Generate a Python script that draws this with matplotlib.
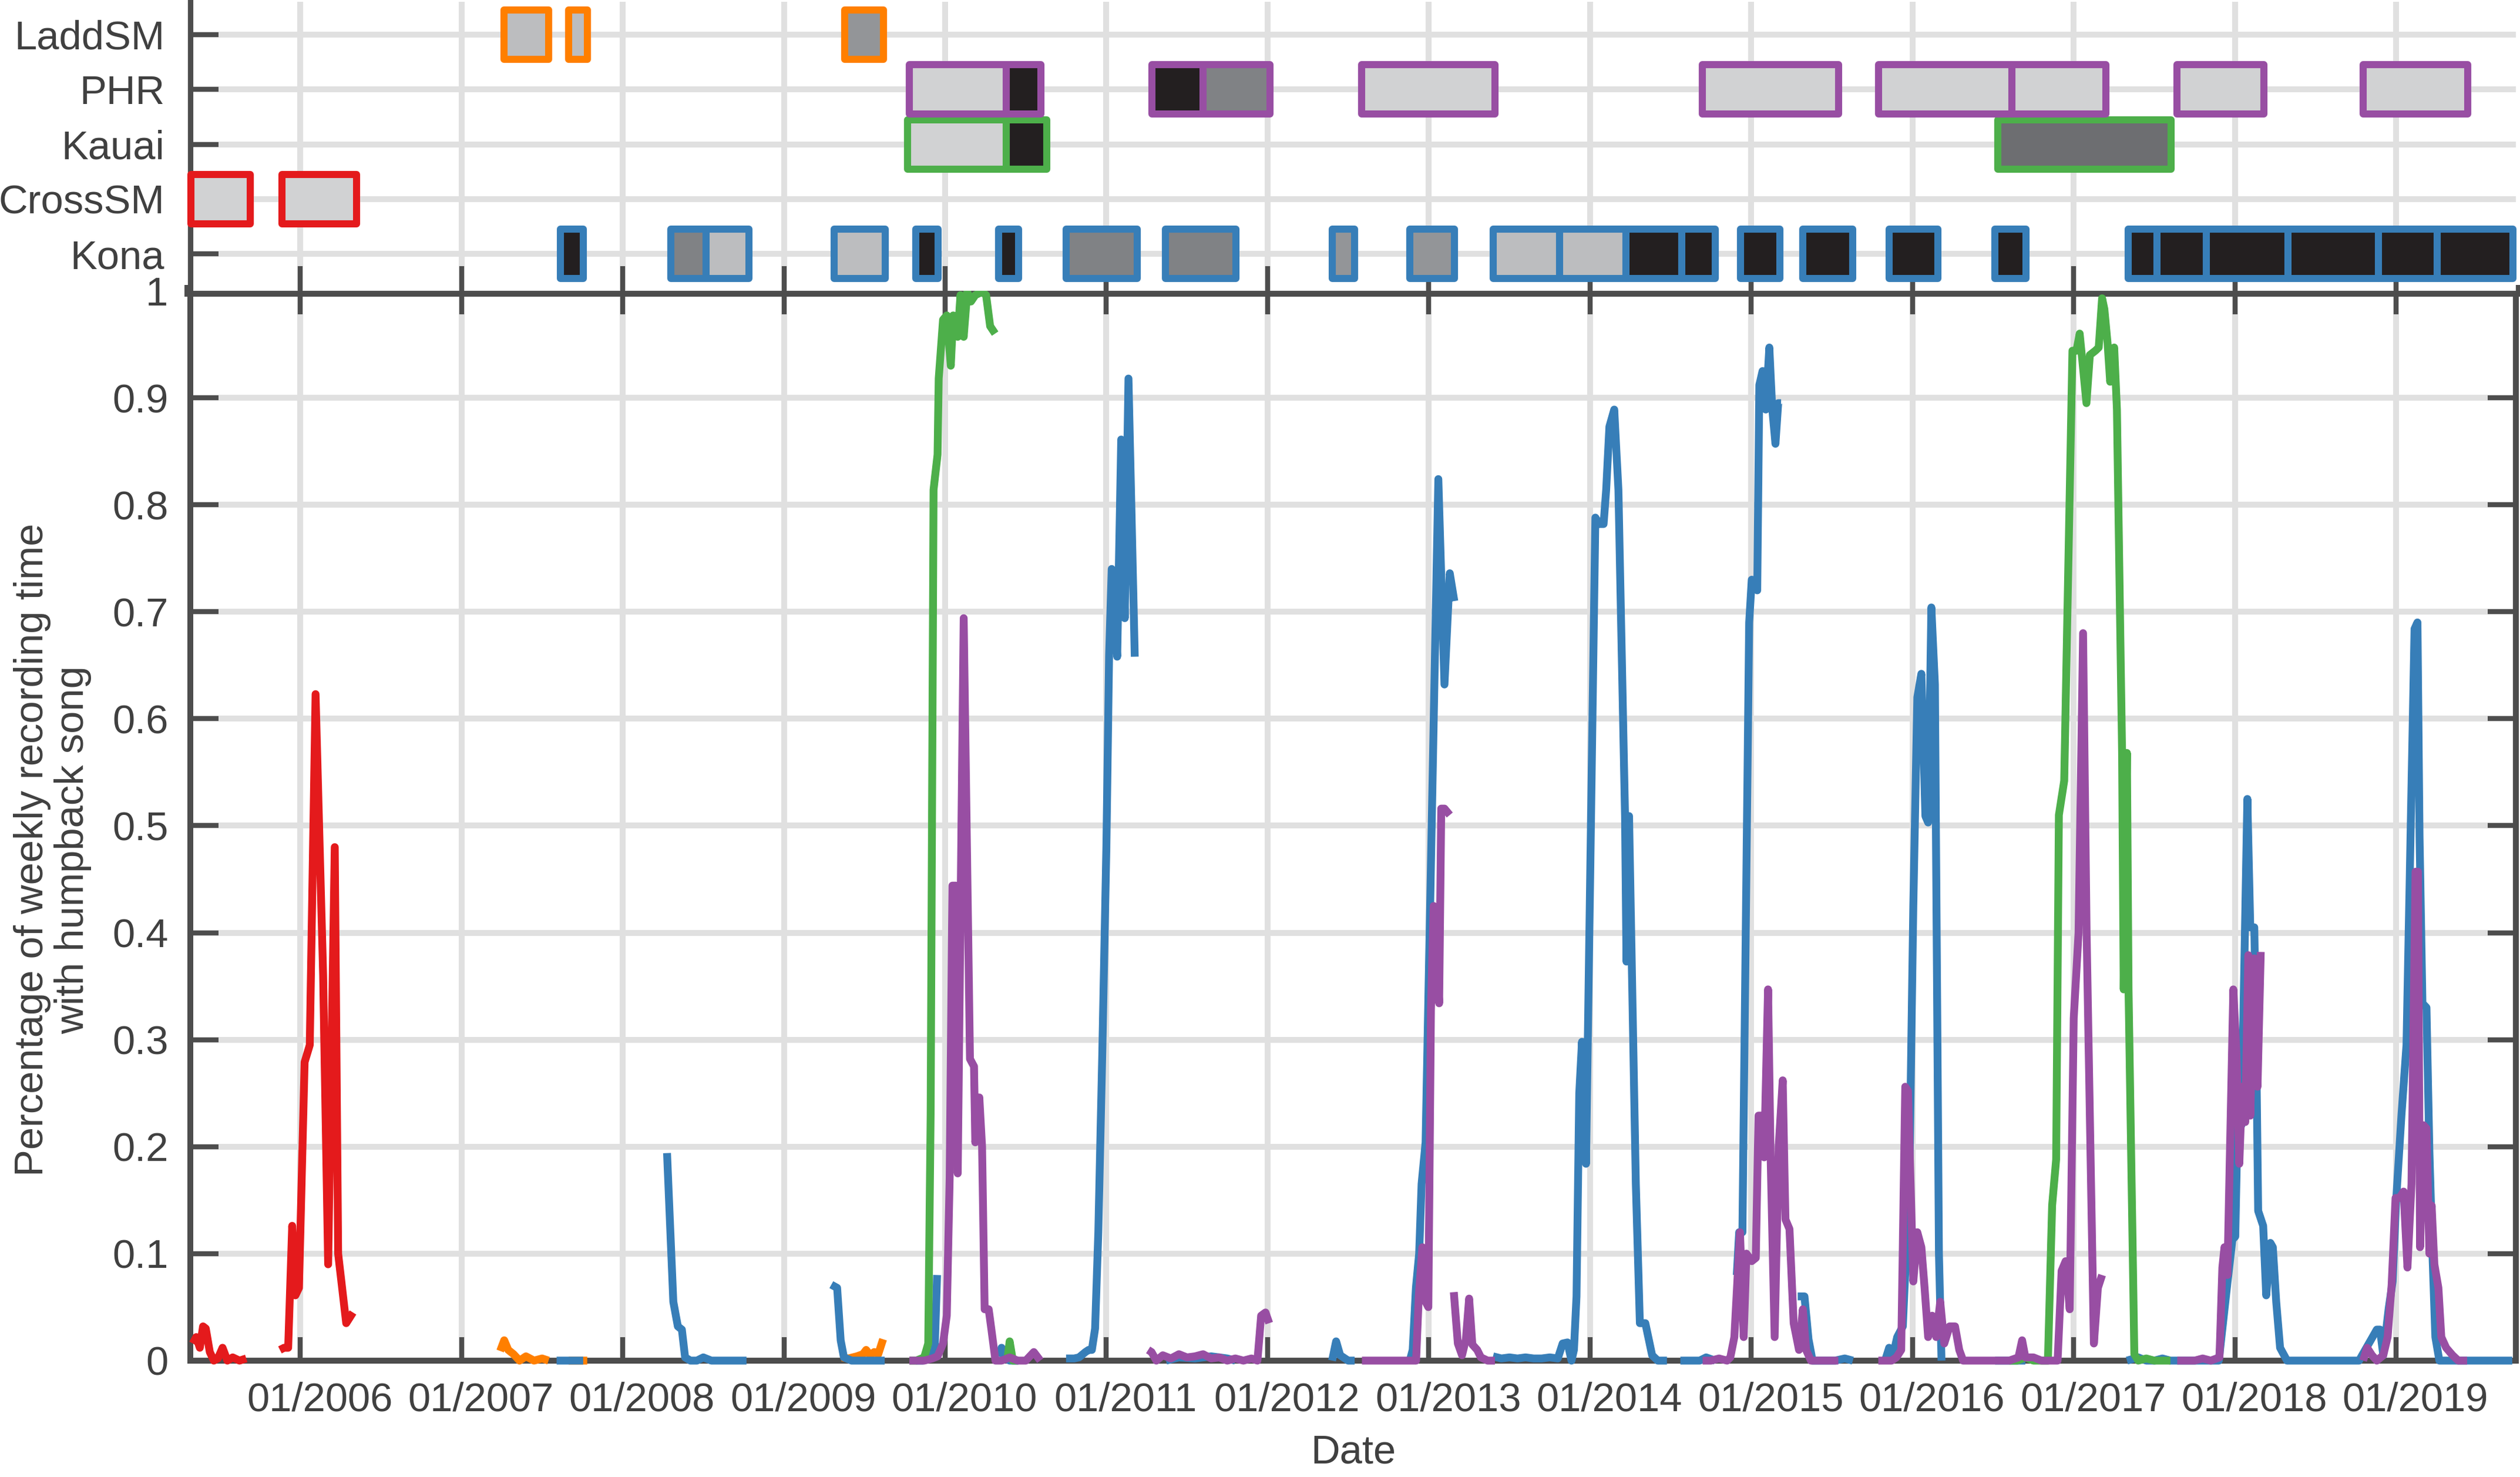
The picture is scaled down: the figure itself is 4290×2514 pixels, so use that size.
"""
Weekly humpback song detections per site with recording-effort bars above.
"""
import numpy as np
import matplotlib
matplotlib.use("Agg")
import matplotlib.pyplot as plt
import matplotlib.transforms as mtransforms

nan = np.nan

# ---- sites (top panel rows, bottom to top) ----
sites = ["Kona", "CrossSM", "Kauai", "PHR", "LaddSM"]
years = list(range(2006, 2020))
x_range = (2005.318, 2019.744)

# recording deployments: (start, end) in decimal years, fill shade index
kona_dep = [(2007.613, 2007.755), (2008.297, 2008.517), (2008.517, 2008.782),
            (2009.311, 2009.627), (2009.816, 2009.957), (2010.331, 2010.456),
            (2010.749, 2011.191), (2011.366, 2011.804), (2012.400, 2012.541),
            (2012.882, 2013.158), (2013.398, 2013.811), (2013.811, 2014.224),
            (2014.224, 2014.568), (2014.568, 2014.777), (2014.934, 2015.178),
            (2015.319, 2015.629), (2015.856, 2016.156), (2016.512, 2016.705),
            (2017.338, 2017.518), (2017.518, 2017.823), (2017.823, 2018.328),
            (2018.328, 2018.891), (2018.891, 2019.255), (2019.255, 2019.725)]
kona_shade = [5, 3, 1, 1, 5, 5, 3, 3, 2, 2, 1, 1, 5, 5, 5, 5, 5, 5, 5, 5, 5, 5, 5, 5]
cross_dep = [(2005.322, 2005.689), (2005.887, 2006.349)]
cross_shade = [0, 0]
kauai_dep = [(2009.766, 2010.379), (2010.379, 2010.631), (2016.530, 2017.605)]
kauai_shade = [0, 5, 4]
phr_dep = [(2009.778, 2010.379), (2010.379, 2010.593), (2011.282, 2011.598),
           (2011.598, 2012.013), (2012.585, 2013.411), (2014.698, 2015.541),
           (2015.788, 2016.615), (2016.615, 2017.200), (2017.642, 2018.178),
           (2018.795, 2019.442)]
phr_shade = [0, 5, 5, 3, 0, 0, 0, 0, 0, 0]
ladd_dep = [(2007.262, 2007.540), (2007.664, 2007.781), (2009.378, 2009.619)]
ladd_shade = [1, 1, 2]

# ---- weekly proportion of time with song (nan = no recording) ----
cross_t = [2005.333, 2005.355, 2005.377, 2005.397, 2005.414, 2005.439, 2005.464,
           2005.489, 2005.518, 2005.548, 2005.581, 2005.623, 2005.665, nan,
           2005.874, 2005.900, 2005.925, 2005.950, 2005.970, 2005.992, 2006.027,
           2006.059, 2006.095, 2006.142, 2006.173, 2006.214, 2006.235, 2006.285,
           2006.327]
cross_v = [0.016, 0.022, 0.012, 0.032, 0.030, 0.008, 0.000,
           0.002, 0.012, 0.000, 0.003, 0.000, 0.002, nan,
           0.010, 0.012, 0.012, 0.126, 0.061, 0.068, 0.279,
           0.295, 0.623, 0.360, 0.090, 0.480, 0.100, 0.035,
           0.045]

ladd_t = [2007.240, 2007.265, 2007.290, 2007.323, 2007.360, 2007.400, 2007.450,
          2007.500, 2007.540, nan,
          2007.665, 2007.700, 2007.740, 2007.780, nan,
          2009.360, 2009.400, 2009.452, 2009.490, 2009.510, 2009.535, 2009.560,
          2009.585, 2009.615]
ladd_v = [0.009, 0.019, 0.010, 0.006, 0.000, 0.004, 0.000,
          0.002, 0.000, nan,
          0.000, 0.000, 0.000, 0.000, nan,
          0.003, 0.002, 0.004, 0.006, 0.010, 0.005, 0.008,
          0.006, 0.020]

kona_t = [2007.590, 2007.620, 2007.665, 2007.710, 2007.755, nan,
          2008.275, 2008.314, 2008.342, 2008.367, 2008.387, 2008.420, 2008.460,
          2008.500, 2008.550, 2008.600, 2008.650, 2008.700, 2008.768, nan,
          2009.294, 2009.330, 2009.352, 2009.372, 2009.420, 2009.500, 2009.580,
          2009.625, nan,
          2009.820, 2009.860, 2009.900, 2009.935, 2009.950, nan,
          2010.331, 2010.350, 2010.375, 2010.400, 2010.430, 2010.455, nan,
          2010.750, 2010.800, 2010.830, 2010.870, 2010.890, 2010.910, 2010.930,
          2010.950, 2010.975, 2011.000, 2011.017, 2011.033, 2011.067, 2011.092,
          2011.114, 2011.137, 2011.176, nan,
          2011.370, 2011.450, 2011.550, 2011.650, 2011.750, 2011.800, nan,
          2012.400, 2012.425, 2012.450, 2012.500, 2012.540, nan,
          2012.882, 2012.900, 2012.920, 2012.940, 2012.955, 2012.980, 2013.059,
          2013.097, 2013.130, 2013.158, nan,
          2013.398, 2013.450, 2013.500, 2013.550, 2013.600, 2013.650, 2013.700,
          2013.750, 2013.800, 2013.830, 2013.860, 2013.885, 2013.900, 2013.916,
          2013.933, 2013.950, 2013.975, 2014.033, 2014.058, 2014.084, 2014.100,
          2014.120, 2014.150, 2014.176, 2014.217, 2014.226, 2014.242, 2014.284,
          2014.309, 2014.343, 2014.385, 2014.420, 2014.477, nan,
          2014.560, 2014.620, 2014.680, 2014.720, 2014.777, nan,
          2014.910, 2014.925, 2014.945, 2014.987, 2015.003, 2015.037, 2015.050,
          2015.070, 2015.090, 2015.112, 2015.130, 2015.150, 2015.167, 2015.185,
          nan,
          2015.288, 2015.330, 2015.355, 2015.380, 2015.450, 2015.520, 2015.580,
          2015.630, nan,
          2015.830, 2015.855, 2015.880, 2015.905, 2015.940, 2015.980, 2016.005,
          2016.030, 2016.055, 2016.080, 2016.097, 2016.117, 2016.139, 2016.164,
          2016.180, nan,
          2016.512, 2016.560, 2016.600, 2016.650, 2016.700, nan,
          2017.330, 2017.400, 2017.450, 2017.500, 2017.550, 2017.600, 2017.650,
          2017.700, 2017.750, 2017.800, 2017.850, 2017.900, 2017.947, 2017.984,
          2018.002, 2018.020, 2018.040, 2018.077, 2018.095, 2018.120, 2018.130,
          2018.144, 2018.175, 2018.194, 2018.220, 2018.235, 2018.256, 2018.280,
          2018.323, 2018.400, 2018.500, 2018.600, 2018.700, 2018.770, 2018.880,
          2018.900, 2018.920, 2018.953, 2018.978, 2019.000, 2019.033, 2019.064,
          2019.089, 2019.114, 2019.132, 2019.145, 2019.163, 2019.188, 2019.206,
          2019.225, 2019.243, 2019.268, 2019.350, 2019.450, 2019.550, 2019.650,
          2019.720]
kona_v = [0.000, 0.000, 0.000, 0.000, 0.000, nan,
          0.194, 0.055, 0.032, 0.029, 0.003, 0.000, 0.000,
          0.003, 0.000, 0.000, 0.000, 0.000, 0.000, nan,
          0.071, 0.068, 0.019, 0.003, 0.000, 0.000, 0.000,
          0.000, nan,
          0.000, 0.000, 0.005, 0.010, 0.080, nan,
          0.004, 0.012, 0.002, 0.000, 0.000, 0.000, nan,
          0.002, 0.002, 0.003, 0.008, 0.010, 0.010, 0.030,
          0.120, 0.290, 0.480, 0.660, 0.740, 0.658, 0.861,
          0.694, 0.918, 0.658, nan,
          0.000, 0.003, 0.002, 0.004, 0.002, 0.000, nan,
          0.000, 0.018, 0.005, 0.000, 0.000, nan,
          0.000, 0.010, 0.068, 0.100, 0.165, 0.204, 0.824,
          0.632, 0.736, 0.710, nan,
          0.004, 0.002, 0.003, 0.002, 0.003, 0.002, 0.002,
          0.003, 0.002, 0.016, 0.017, 0.000, 0.010, 0.060,
          0.250, 0.298, 0.184, 0.788, 0.782, 0.782, 0.814,
          0.873, 0.889, 0.814, 0.509, 0.373, 0.509, 0.165,
          0.035, 0.035, 0.005, 0.000, 0.000, nan,
          0.000, 0.000, 0.000, 0.003, 0.000, nan,
          0.080, 0.120, 0.120, 0.690, 0.730, 0.720, 0.912,
          0.925, 0.889, 0.947, 0.890, 0.857, 0.895, 0.895,
          nan,
          0.060, 0.060, 0.020, 0.000, 0.000, 0.000, 0.002,
          0.000, nan,
          0.000, 0.012, 0.005, 0.022, 0.032, 0.165, 0.425,
          0.620, 0.642, 0.509, 0.503, 0.704, 0.632, 0.100,
          0.000, nan,
          0.000, 0.000, 0.000, 0.000, 0.000, nan,
          0.000, 0.003, 0.000, 0.000, 0.002, 0.000, 0.000,
          0.000, 0.000, 0.000, 0.000, 0.000, 0.064, 0.113,
          0.116, 0.250, 0.220, 0.525, 0.405, 0.405, 0.320,
          0.140, 0.126, 0.061, 0.110, 0.106, 0.055, 0.012,
          0.000, 0.000, 0.000, 0.000, 0.000, 0.000, 0.029,
          0.029, 0.005, 0.048, 0.074, 0.150, 0.230, 0.295,
          0.490, 0.684, 0.690, 0.490, 0.334, 0.330, 0.196,
          0.100, 0.022, 0.000, 0.000, 0.000, 0.000, 0.000,
          0.000]

kauai_t = [2009.778, 2009.820, 2009.870, 2009.895, 2009.910, 2009.928, 2009.953,
           2009.960, 2009.987, 2010.010, 2010.035, 2010.050, 2010.078, 2010.095,
           2010.115, 2010.137, 2010.160, 2010.187, 2010.229, 2010.254, 2010.279,
           2010.310, nan,
           2010.385, 2010.400, 2010.420, 2010.450, nan,
           2016.600, 2016.650, 2016.700, 2016.750, 2016.800, 2016.840, 2016.866,
           2016.891, 2016.908, 2016.941, 2016.992, 2017.017, 2017.037, 2017.079,
           2017.100, 2017.134, 2017.155, 2017.176, 2017.190, 2017.210, 2017.226,
           2017.251, 2017.268, 2017.300, 2017.310, 2017.330, 2017.340, 2017.376,
           2017.400, 2017.450, 2017.500, 2017.550, 2017.600]
kauai_v = [0.000, 0.000, 0.003, 0.016, 0.230, 0.814, 0.847,
           0.918, 0.973, 0.977, 0.930, 0.977, 0.957, 0.996,
           0.957, 0.999, 0.990, 0.996, 0.999, 0.996, 0.967,
           0.960, nan,
           0.000, 0.018, 0.000, 0.000, nan,
           0.000, 0.000, 0.003, 0.000, 0.000, 0.000, 0.145,
           0.188, 0.510, 0.542, 0.944, 0.944, 0.960, 0.895,
           0.940, 0.944, 0.947, 0.993, 0.983, 0.951, 0.915,
           0.947, 0.889, 0.568, 0.347, 0.568, 0.347, 0.006,
           0.000, 0.002, 0.000, 0.000, 0.000]

phr_t = [2009.778, 2009.820, 2009.870, 2009.920, 2009.953, 2009.987, 2010.010,
         2010.028, 2010.045, 2010.067, 2010.078, 2010.115, 2010.154, 2010.179,
         2010.187, 2010.212, 2010.229, 2010.245, 2010.270, 2010.287, 2010.312,
         2010.350, 2010.400, 2010.450, 2010.500, 2010.550, 2010.590, nan,
         2011.259, 2011.280, 2011.310, 2011.350, 2011.400, 2011.450, 2011.500,
         2011.550, 2011.600, 2011.650, 2011.700, 2011.750, 2011.800, 2011.850,
         2011.900, 2011.937, 2011.960, 2011.987, 2012.010, nan,
         2012.585, 2012.650, 2012.700, 2012.750, 2012.800, 2012.850, 2012.921,
         2012.938, 2012.960, 2012.980, 2012.997, 2013.013, 2013.030, 2013.064,
         2013.077, 2013.097, 2013.130, nan,
         2013.155, 2013.180, 2013.206, 2013.230, 2013.250, 2013.270, 2013.300,
         2013.323, 2013.365, 2013.410, nan,
         2014.698, 2014.750, 2014.800, 2014.850, 2014.870, 2014.895, 2014.930,
         2014.953, 2014.970, 2015.003, 2015.028, 2015.045, 2015.060, 2015.080,
         2015.104, 2015.120, 2015.145, 2015.170, 2015.195, 2015.212, 2015.237,
         2015.263, 2015.296, 2015.320, 2015.340, 2015.370, 2015.420, 2015.470,
         2015.540, nan,
         2015.788, 2015.830, 2015.870, 2015.900, 2015.930, 2015.955, 2015.972,
         2016.005, 2016.030, 2016.055, 2016.075, 2016.097, 2016.122, 2016.147,
         2016.172, 2016.197, 2016.230, 2016.264, 2016.290, 2016.314, 2016.400,
         2016.500, 2016.600, 2016.657, 2016.680, 2016.700, 2016.750, 2016.800,
         2016.850, 2016.900, 2016.925, 2016.950, 2016.975, 2017.000, 2017.030,
         2017.058, 2017.080, 2017.125, 2017.150, 2017.176, nan,
         2017.642, 2017.700, 2017.750, 2017.800, 2017.850, 2017.904, 2017.922,
         2017.935, 2017.953, 2017.990, 2018.009, 2018.027, 2018.045, 2018.064,
         2018.083, 2018.095, 2018.120, 2018.140, 2018.160, nan,
         2018.795, 2018.820, 2018.850, 2018.880, 2018.920, 2018.947, 2018.972,
         2018.996, 2019.020, 2019.046, 2019.070, 2019.095, 2019.120, 2019.135,
         2019.148, 2019.170, 2019.188, 2019.206, 2019.220, 2019.237, 2019.262,
         2019.280, 2019.310, 2019.350, 2019.385, 2019.440]
phr_v = [0.000, 0.000, 0.000, 0.002, 0.004, 0.016, 0.042,
         0.171, 0.444, 0.444, 0.175, 0.694, 0.282, 0.275,
         0.204, 0.246, 0.200, 0.048, 0.048, 0.029, 0.000,
         0.000, 0.003, 0.000, 0.000, 0.008, 0.000, nan,
         0.010, 0.008, 0.000, 0.005, 0.002, 0.006, 0.003,
         0.004, 0.006, 0.002, 0.003, 0.000, 0.002, 0.000,
         0.002, 0.000, 0.042, 0.045, 0.035, nan,
         0.000, 0.000, 0.000, 0.000, 0.000, 0.000, 0.000,
         0.061, 0.106, 0.055, 0.050, 0.327, 0.425, 0.334,
         0.516, 0.516, 0.510, nan,
         0.064, 0.016, 0.005, 0.020, 0.058, 0.015, 0.010,
         0.003, 0.000, 0.000, nan,
         0.000, 0.000, 0.002, 0.000, 0.003, 0.022, 0.120,
         0.022, 0.100, 0.093, 0.096, 0.229, 0.229, 0.190,
         0.347, 0.190, 0.022, 0.200, 0.262, 0.132, 0.123,
         0.035, 0.010, 0.048, 0.010, 0.000, 0.000, 0.000,
         0.000, nan,
         0.000, 0.000, 0.000, 0.003, 0.010, 0.256, 0.252,
         0.074, 0.120, 0.106, 0.068, 0.022, 0.042, 0.022,
         0.055, 0.016, 0.032, 0.032, 0.010, 0.000, 0.000,
         0.000, 0.000, 0.003, 0.019, 0.003, 0.003, 0.000,
         0.000, 0.000, 0.084, 0.093, 0.048, 0.320, 0.400,
         0.680, 0.400, 0.016, 0.068, 0.080, nan,
         0.000, 0.000, 0.000, 0.002, 0.000, 0.003, 0.087,
         0.106, 0.080, 0.347, 0.288, 0.184, 0.256, 0.223,
         0.379, 0.229, 0.376, 0.256, 0.382, nan,
         0.000, 0.012, 0.005, 0.000, 0.005, 0.022, 0.071,
         0.152, 0.152, 0.158, 0.087, 0.165, 0.457, 0.457,
         0.106, 0.220, 0.217, 0.100, 0.145, 0.090, 0.068,
         0.022, 0.012, 0.005, 0.000, 0.000]

# ---- styles ----
site_colors = {"CrossSM": "#e41a1c", "LaddSM": "#ff7f00", "Kona": "#377eb8",
               "Kauai": "#4daf4a", "PHR": "#984ea3"}
shades = ["#d1d2d3", "#bcbdbf", "#939598", "#808285", "#6d6e71", "#231f20"]
dark = "#4d4d4d"
text_c = "#404040"
grid_c = "#e0e0e0"

plt.rcParams['font.family'] = ['Liberation Sans', 'DejaVu Sans']
plt.rcParams['font.size'] = 16.5
plt.rcParams['text.color'] = text_c
plt.rcParams['axes.labelcolor'] = text_c

fig = plt.figure(figsize=(14.303, 8.38), dpi=300)
left, right = 0.0755, 0.99825
main_bottom, main_top = 0.0788, 0.8031
ax = fig.add_axes([left, main_bottom, right - left, main_top - main_bottom])
axt = fig.add_axes([left, main_top, right - left, 0.999 - main_top], sharex=ax)

# ---- top panel: deployments ----
deployments = {"Kona": (kona_dep, kona_shade), "CrossSM": (cross_dep, cross_shade),
               "Kauai": (kauai_dep, kauai_shade), "PHR": (phr_dep, phr_shade),
               "LaddSM": (ladd_dep, ladd_shade)}
for row, name in enumerate(sites):
    dep, shade = deployments[name]
    bars = axt.broken_barh([(a, b - a) for a, b in dep], (row - 0.45, 0.9),
                           facecolors=[shades[s] for s in shade],
                           edgecolor=site_colors[name], linewidth=2.9, zorder=3)
    bars.set_clip_on(False)

axt.set_ylim(-0.673, 4.604)
axt.set_yticks(range(len(sites)))
axt.set_yticklabels(sites)
axt.set_xticks(years)
axt.tick_params(axis='x', which='both', bottom=True, top=False, labelbottom=False,
                direction='in', length=10, width=2, color=dark)
axt.tick_params(axis='y', direction='in', length=11.5, width=2, color=dark,
                labelcolor=text_c, labelsize=16.5, pad=10.5)
axt.grid(True, color=grid_c, linewidth=2.4)
axt.set_axisbelow(True)
for side in ["top", "right", "bottom"]:
    axt.spines[side].set_visible(False)
axt.spines["left"].set_color(dark)
axt.spines["left"].set_linewidth(2.2)

# ---- main panel: song occurrence ----
series = [("CrossSM", cross_t, cross_v), ("LaddSM", ladd_t, ladd_v),
          ("Kona", kona_t, kona_v), ("Kauai", kauai_t, kauai_v),
          ("PHR", phr_t, phr_v)]
for name, t, v in series:
    ax.plot(t, v, color=site_colors[name], linewidth=3.2, zorder=3,
            clip_on=False, solid_joinstyle='round', solid_capstyle='butt')

ax.set_xlim(*x_range)
ax.set_ylim(0, 1)
ax.set_xticks(years)
ax.set_xticklabels(["01/%d" % y for y in years])
ax.set_yticks(np.arange(0, 1.01, 0.1))
ax.set_yticklabels(["0"] + ["%.1f" % y for y in np.arange(0.1, 0.95, 0.1)] + ["1"])
ax.tick_params(axis='x', which='both', bottom=True, top=True, direction='in',
               length=9.6, width=2, color=dark, labelcolor=text_c,
               labelsize=16.5, pad=8.5)
ax.tick_params(axis='y', which='both', left=True, right=True, direction='in',
               length=11.5, width=2, color=dark, labelcolor=text_c,
               labelsize=16.5, pad=9)
ax.grid(True, color=grid_c, linewidth=2.4)
ax.set_axisbelow(True)
for side in ["left", "right", "bottom"]:
    ax.spines[side].set_color(dark)
    ax.spines[side].set_linewidth(2.4)
ax.spines["top"].set_color(dark)
ax.spines["top"].set_linewidth(4.8)

# date labels sit a little to the right of their ticks
shift = mtransforms.ScaledTranslation(7.9 / 72, 0, fig.dpi_scale_trans)
for lab in ax.get_xticklabels():
    lab.set_transform(lab.get_transform() + shift)

ax.set_xlabel("Date", fontsize=16.5, labelpad=6)
ax.set_ylabel("Percentage of weekly recording time\nwith humpback song",
              fontsize=16.5, linespacing=1.1)
ax.yaxis.set_label_coords(-0.0425, 0.4775)

fig.savefig("out.png", dpi=300)
